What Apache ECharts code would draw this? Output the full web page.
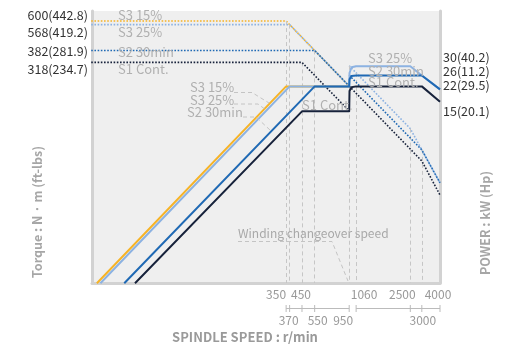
<!DOCTYPE html>
<html><head><meta charset="utf-8">
<script src="https://cdn.jsdelivr.net/npm/echarts@6/dist/echarts.min.js"></script>
<style>html,body{margin:0;padding:0;background:#fff}#c{width:509px;height:349px}</style>
</head><body><div id="c"></div>
<script>
// ---------- data ----------
const seriesNames = ['S3 15%', 'S3 25%', 'S2 30min', 'S1 Cont.'];
const speedTicksTop = [350, 450, 1060, 2500, 4000];
const speedTicksBottom = [370, 550, 950, 3000];
const bracketGroups = [[350, 370, 450, 550, 950], [1060, 2500, 3000, 4000]];
const torqueLabelTexts = ['600(442.8)', '568(419.2)', '382(281.9)', '318(234.7)'];
const torqueLabelValues = [600, 568, 382, 318];
const powerLabelTexts = ['30(40.2)', '26(11.2)', '22(29.5)', '15(20.1)'];
const powerLabelValues = [30, 26, 22, 15];

// power curves: [speed r/min, kW]
const powerS3_15 = [[17.5, 1.07], [350, 22], [950, 22]];
const powerS3_25 = [[18.5, 1.07], [370, 22], [950, 22], [955, 27], [985, 29.5], [1060, 30], [2500, 30], [3000, 26], [4000, 21]];
const powerS2    = [[27, 1.07], [550, 22], [950, 22], [955, 24.5], [985, 25.8], [1060, 26], [3000, 26], [4000, 21]];
const powerS1    = [[32, 1.07], [450, 15], [950, 15], [955, 20.5], [985, 21.7], [1060, 22], [3000, 22], [4000, 17.4]];
// torque curves: [speed r/min, N·m]
const torqueS3_15 = [[16, 600], [350, 600], [950, 221]];
const torqueS3_25 = [[16, 568], [370, 568], [950, 221]];
const torqueS2    = [[16, 382], [550, 382], [950, 221]];
const torqueS1    = [[16, 318], [450, 318], [950, 151]];
const torqueHS3_25 = [[950, 302], [2500, 115], [3000, 83], [4000, 50]];
const torqueHS2    = [[950, 261], [3000, 83], [4000, 50]];
const torqueHS1    = [[950, 221], [3000, 70], [4000, 41.5]];
// vertical guide lines: [speed, top torque N·m]
const guideLines = [[350, 600], [370, 568], [450, 318], [550, 382], [950, 302], [1060, 270], [2500, 115], [3000, 83]];

// ---------- styling ----------
const C = { s315: '#f6b326', s325: '#8cb2e2', s2: '#1f69b4', s1: '#17223b' };
const FONT = '"Noto Sans CJK KR", "Noto Sans", sans-serif';
const X_MIN = 16.2, X_MAX = 4000, T_MIN = 10.75, T_MAX = 700, P_MIN = 1.075, P_MAX = 70;

function pw(name, data, color, z) {
  return { name, type: 'line', data, yAxisIndex: 1, symbol: 'none', z, animation: false,
    lineStyle: { color, width: 2, join: 'round' } };
}
function tq(name, data, color, z) {
  return { name, type: 'line', data, yAxisIndex: 0, symbol: 'none', z, animation: false,
    lineStyle: { color, width: 1.6, type: [1.6, 1.6] } };
}

const option = {
  animation: false,
  grid: { left: 92, top: 11, width: 348, height: 272, show: true, backgroundColor: '#efefef', borderWidth: 0 },
  xAxis: { type: 'log', min: X_MIN, max: X_MAX, logBase: 10,
    axisLine: { show: true, lineStyle: { color: '#d2d2d2', width: 3 } },
    axisTick: { show: false }, axisLabel: { show: false }, splitLine: { show: false } },
  yAxis: [
    { type: 'log', min: T_MIN, max: T_MAX, position: 'left',
      axisLine: { show: true, lineStyle: { color: '#d2d2d2', width: 3 } },
      axisTick: { show: false }, axisLabel: { show: false }, splitLine: { show: false } },
    { type: 'log', min: P_MIN, max: P_MAX, position: 'right',
      axisLine: { show: true, lineStyle: { color: '#d2d2d2', width: 3 } },
      axisTick: { show: false }, axisLabel: { show: false }, splitLine: { show: false } }
  ],
  series: [
    { type: 'line', data: [], yAxisIndex: 0, z: 1, silent: true,
      markLine: { silent: true, symbol: 'none', animation: false, label: { show: false },
        lineStyle: { color: '#c6c6c6', width: 1, type: [4, 3] },
        data: guideLines.map(g => [{ coord: [g[0], g[1]] }, { coord: [g[0], T_MIN] }]) } },
    tq(seriesNames[0], torqueS3_15, C.s315, 3),
    tq(seriesNames[1], torqueS3_25, C.s325, 4),
    tq(seriesNames[2], torqueS2, C.s2, 5),
    tq(seriesNames[3], torqueS1, C.s1, 6),
    tq(seriesNames[1] + ' H', torqueHS3_25, C.s325, 4),
    tq(seriesNames[2] + ' H', torqueHS2, C.s2, 5),
    tq(seriesNames[3] + ' H', torqueHS1, C.s1, 6),
    pw(seriesNames[0] + ' P', powerS3_15, C.s315, 7),
    pw(seriesNames[1] + ' P', powerS3_25, C.s325, 8),
    pw(seriesNames[2] + ' P', powerS2, C.s2, 9),
    pw(seriesNames[3] + ' P', powerS1, C.s1, 10)
  ]
};

const chart = echarts.init(document.getElementById('c'));
chart.setOption(option);

const px = v => chart.convertToPixel({ xAxisIndex: 0 }, v);
const pyT = v => chart.convertToPixel({ yAxisIndex: 0 }, v);
const pyP = v => chart.convertToPixel({ yAxisIndex: 1 }, v);

const g = [];
function txt(x, y, text, o) {
  g.push({ type: 'text', x, y, silent: true, z: 50,
    style: Object.assign({ text, font: '12px ' + FONT, fill: '#999', textAlign: 'left', textVerticalAlign: 'middle' }, o || {}) });
}
function poly(points, o) {
  g.push({ type: 'polyline', silent: true, z: 40, shape: { points },
    style: Object.assign({ stroke: '#c4c4c4', lineWidth: 1, lineDash: [4, 3], fill: null }, o || {}) });
}

// left torque labels
const tOff = [-5.5, 8, 1, 7.3];
torqueLabelTexts.forEach((t, i) => txt(88, pyT(torqueLabelValues[i]) + tOff[i], t, { fill: '#333', textAlign: 'right', font: '12.5px ' + FONT }));
// right power labels
const pOff = [-9, -4, -1, 0];
powerLabelTexts.forEach((t, i) => txt(443, pyP(powerLabelValues[i]) + pOff[i], t, { fill: '#333', font: '12.5px ' + FONT }));

// x tick labels
const topDx = [-10, -1, 8, -8, -2];
speedTicksTop.forEach((s, i) => txt(px(s) + topDx[i], 294, String(s), { textAlign: 'center', fill: '#999' }));
const botDx = [-1, 3, -6, 1];
speedTicksBottom.forEach((s, i) => txt(px(s) + botDx[i], 320, String(s), { textAlign: 'center', fill: '#999' }));
// bracket lines
bracketGroups.forEach(grp => {
  const xs = grp.map(px);
  g.push({ type: 'line', silent: true, shape: { x1: xs[0], y1: 308.5, x2: xs[xs.length - 1], y2: 308.5 }, style: { stroke: '#bbb', lineWidth: 1 } });
  xs.forEach(x => g.push({ type: 'line', silent: true, shape: { x1: x, y1: 305, x2: x, y2: 312 }, style: { stroke: '#bbb', lineWidth: 1 } }));
});

// axis titles
txt(245, 337, 'SPINDLE SPEED : r/min', { textAlign: 'center', font: 'bold 13px ' + FONT, fill: '#9a9a9a' });
g.push({ type: 'text', x: 37, y: 212, rotation: Math.PI / 2, silent: true,
  style: { text: 'Torque : N · m (ft-lbs)', font: 'bold 12.5px ' + FONT, fill: '#a6a6a6', textAlign: 'center', textVerticalAlign: 'middle' } });
g.push({ type: 'text', x: 485, y: 223, rotation: Math.PI / 2, silent: true,
  style: { text: 'POWER : kW (Hp)', font: 'bold 12.5px ' + FONT, fill: '#a6a6a6', textAlign: 'center', textVerticalAlign: 'middle' } });

// in-plot annotations
const LBL = { fill: '#b0b0b0', font: '13px ' + FONT };
txt(118, 15, seriesNames[0], LBL);
txt(118, 32, seriesNames[1], LBL);
txt(118, 52, seriesNames[2], LBL);
txt(118, 69, seriesNames[3], LBL);
txt(190, 87, seriesNames[0], LBL);
txt(190, 100, seriesNames[1], LBL);
txt(187, 112, seriesNames[2], LBL);
txt(302, 105, seriesNames[3], LBL);
txt(368, 58, seriesNames[1], LBL);
txt(368, 71, seriesNames[2], LBL);
txt(368, 82, seriesNames[3], LBL);
poly([[234, 92.5], [252, 92.5], [269, 103]]);
poly([[234, 104], [258, 104], [266, 110]]);
poly([[243, 117], [256, 117], [270, 130]]);
txt(238, 233, 'Winding changeover speed', { fill: '#a8a8a8', font: '12px ' + FONT });
poly([[238, 241.5], [332, 241.5], [348, 281]]);

chart.setOption({ graphic: g });
</script>
</body></html>
